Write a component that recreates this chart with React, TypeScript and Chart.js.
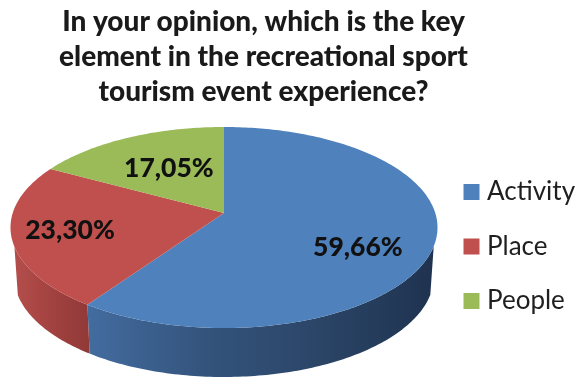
import { useEffect, useRef } from "react";
import { Chart, registerables } from "chart.js";

Chart.register(...registerables);

const categories = ["Activity", "Place", "People"];
const shares = [59.66, 23.3, 17.05];
const faceColors = ["#4f81bd", "#c0504d", "#9bbb59"];
const titleLines = [
  "In your opinion, which is the key",
  "element in the recreational sport",
  "tourism event experience?",
];

// Wall shading per slice: horizontal gradient stops, left to right.
const wallShades = [
  ["#436c9f", "#34547d", "#2b4567", "#1f3350"],
  ["#b34e4b", "#a94644", "#9c3f3d", "#923a38"],
  ["#7c9647", "#7c9647", "#7c9647", "#7c9647"],
];
// Value label anchors, as fractions of the disc's half axes.
const labelAnchors = [
  [0.627, 0.194],
  [-0.721, 0.025],
  [-0.258, -0.583],
];

const FACE = { cx: 224, cy: 227.5, rx: 213.5, ry: 100.5 };
const BASE = { cx: 224, cy: 276, rx: 210, ry: 101 };
const HUB_SHIFT = -0.144; // perspective shift of the hub towards the far rim
const WALL_FROM = 0.18; // the side wall shows below this depth on the disc

// Perspective map from a unit-circle direction to normalised disc coordinates.
function project(theta: number) {
  const u = Math.sin(theta);
  const v = -Math.cos(theta);
  const d = 1 + HUB_SHIFT * v;
  return {
    u: (u * Math.sqrt(1 - HUB_SHIFT * HUB_SHIFT)) / d,
    v: (v + HUB_SHIFT) / d,
  };
}

const toFace = (p: { u: number; v: number }) => ({
  x: FACE.cx + FACE.rx * p.u,
  y: FACE.cy + FACE.ry * p.v,
});
const toBase = (p: { u: number; v: number }) => ({
  x: BASE.cx + BASE.rx * p.u,
  y: BASE.cy + BASE.ry * p.v,
});

const sampleArc = (start: number, end: number) => {
  const steps = Math.max(8, Math.ceil((end - start) * 60));
  const out = [];
  for (let i = 0; i <= steps; i++) out.push(project(start + ((end - start) * i) / steps));
  return out;
};

// Replaces the flat slices with an extruded, tilted disc driven by the arc angles.
const tiltedPie = {
  id: "tiltedPie",
  afterLayout(chart: any) {
    chart.titleBlock.left = 0;
    chart.titleBlock.right = 527;
    chart.legend.left = 440.5;
    chart.legend.right = 583;
    chart.legend.top = 150.5;
    chart.legend.bottom = 379;
  },
  beforeDatasetsDraw(chart: any) {
    const ctx = chart.ctx;
    const arcs = chart.getDatasetMeta(0).data;
    const angles = arcs.map((a: any) => [a.startAngle + Math.PI / 2, a.endAngle + Math.PI / 2]);

    // Walls first, the top face paints over them.
    angles.forEach(([s, e]: number[], i: number) => {
      const pts = sampleArc(s, e).filter((p) => p.v >= WALL_FROM);
      if (pts.length < 2) return;
      const xs = pts.map((p) => toFace(p).x);
      const x0 = Math.min(...xs);
      const x1 = Math.max(...xs);
      const grad = ctx.createLinearGradient(x0, 0, x1, 0);
      wallShades[i].forEach((c, k, all) => grad.addColorStop(k / (all.length - 1), c));
      ctx.beginPath();
      pts.forEach((p, k) => {
        const q = toFace(p);
        if (k === 0) ctx.moveTo(q.x, q.y);
        else ctx.lineTo(q.x, q.y);
      });
      [...pts].reverse().forEach((p) => {
        const q = toBase(p);
        ctx.lineTo(q.x, q.y);
      });
      ctx.closePath();
      ctx.fillStyle = grad;
      ctx.fill();
    });

    angles.forEach(([s, e]: number[], i: number) => {
      const hub = toFace({ u: 0, v: HUB_SHIFT });
      ctx.beginPath();
      ctx.moveTo(hub.x, hub.y);
      sampleArc(s, e).forEach((p) => {
        const q = toFace(p);
        ctx.lineTo(q.x, q.y);
      });
      ctx.closePath();
      ctx.fillStyle = faceColors[i];
      ctx.fill();
    });

    // Value labels.
    ctx.save();
    ctx.font = "900 26.5px Lato";
    ctx.fillStyle = "#111111";
    ctx.textAlign = "center";
    ctx.textBaseline = "middle";
    shares.forEach((value, i) => {
      const [u, v] = labelAnchors[i];
      const q = toFace({ u, v });
      ctx.fillText(value.toFixed(2).replace(".", ",") + "%", q.x, q.y);
    });
    ctx.restore();
    return false;
  },
};

export default function App() {
  const ref = useRef<HTMLCanvasElement>(null);

  useEffect(() => {
    const chart = new Chart(ref.current!, {
      type: "pie",
      data: {
        labels: categories,
        datasets: [{ data: shares, backgroundColor: faceColors, borderWidth: 0 }],
      },
      options: {
        responsive: false,
        animation: false,
        layout: { padding: { right: 5, bottom: 0 } },
        plugins: {
          title: {
            display: true,
            text: titleLines,
            color: "#1a1a1a",
            padding: { top: 4, bottom: 4 },
            font: { family: "Lato", size: 28, weight: "900", lineHeight: 1.25 },
          },
          legend: {
            position: "right",
            align: "start",
            labels: {
              usePointStyle: true,
              pointStyle: "rect",
              boxWidth: 5,
              boxHeight: 16,
              padding: 28.5,
              color: "#1f1f1f",
              font: { family: "Lato", size: 26 },
            },
          },
          tooltip: { enabled: false },
        },
      },
      plugins: [tiltedPie],
    } as any);
    return () => chart.destroy();
  }, []);

  return (
    <canvas
      ref={ref}
      width={583}
      height={379}
      style={{ position: "absolute", left: 0, top: 0, display: "block" }}
    />
  );
}
